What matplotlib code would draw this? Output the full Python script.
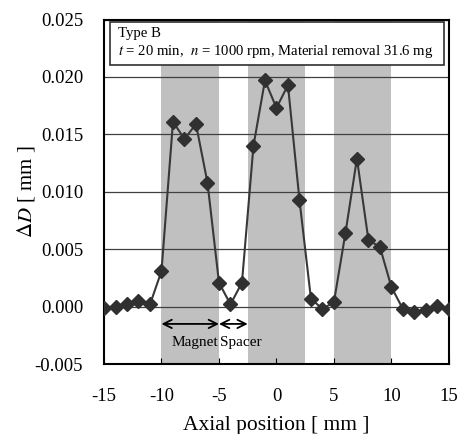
import numpy as np
import matplotlib.pyplot as plt
from matplotlib.patches import Rectangle

plt.rcParams['font.family'] = ['Liberation Serif', 'DejaVu Serif']
plt.rcParams['mathtext.fontset'] = 'stix'
plt.rcParams['axes.unicode_minus'] = False

# axial position (mm) and diameter change (mm)
pos = np.arange(-15, 16)
dD = [-0.0001, 0.0000, 0.0002, 0.0005, 0.0002, 0.0031,
      0.0161, 0.0146, 0.0159, 0.0108, 0.0021,
      0.0002, 0.0021,
      0.0140, 0.0197, 0.0173, 0.0193, 0.0093,
      0.0007, -0.0002,
      0.0004, 0.0064, 0.0129, 0.0058, 0.0052, 0.0017,
      -0.0002, -0.0005, -0.0003, 0.0001, -0.0002]

# magnet regions (mm)
magnets = [(-10, -5), (-2.5, 2.5), (5, 10)]

fig = plt.figure(figsize=(4.59, 4.34), dpi=100)
ax = fig.add_axes([0.2266, 0.161, 0.7514, 0.794])

for a, b in magnets:
    ax.axvspan(a, b, color='#c0c0c0', lw=0, zorder=0)

for y in np.arange(0.0, 0.0251, 0.005):
    ax.axhline(y, color='#404040', lw=0.9, zorder=1)

ax.plot(pos, dD, color='#383838', lw=1.5, marker='D', ms=7,
        mfc='#303030', mec='#303030', zorder=3)

ax.set_xlim(-15, 15)
ax.set_ylim(-0.005, 0.025)
ax.set_xticks(np.arange(-15, 16, 5))
ax.set_yticks(np.arange(-0.005, 0.0251, 0.005))
ax.set_yticklabels([f'{v:.3f}' for v in np.arange(-0.005, 0.0251, 0.005)])
ax.tick_params(axis='x', direction='in', length=4, pad=17, labelsize=13.5)
ax.tick_params(axis='y', length=0, pad=15, labelsize=13.5)
for s in ax.spines.values():
    s.set_linewidth(1.5)

ax.set_xlabel('Axial position [ mm ]', fontsize=15.5, labelpad=8)
ax.set_ylabel(r'$\Delta D$ [ mm ]', fontsize=15, labelpad=-2)

# info box
ax.add_patch(Rectangle((0.017, 0.868), 0.969, 0.124, transform=ax.transAxes,
                       facecolor='white', edgecolor='#303030', lw=1.2, zorder=4))
ax.text(0.041, 0.96, 'Type B', transform=ax.transAxes, fontsize=10.6,
        va='center', ha='left', zorder=5)
ax.text(0.041, 0.906, r'$t$ = 20 min,  $n$ = 1000 rpm, Material removal 31.6 mg',
        transform=ax.transAxes, fontsize=10.6, va='center', ha='left', zorder=5)

# magnet / spacer arrows
arrow = dict(arrowstyle='<->,head_length=0.6,head_width=0.3', color='black',
             lw=1.3, shrinkA=0, shrinkB=0)
ax.annotate('', xy=(-10, -0.0015), xytext=(-5, -0.0015), arrowprops=arrow, zorder=5)
ax.annotate('', xy=(-5, -0.0015), xytext=(-2.5, -0.0015), arrowprops=arrow, zorder=5)
ax.text(-7.1, -0.0031, 'Magnet', fontsize=11, ha='center', va='center', zorder=5)
ax.text(-3.1, -0.0031, 'Spacer', fontsize=11, ha='center', va='center', zorder=5)

fig.savefig('out.png', dpi=100)
